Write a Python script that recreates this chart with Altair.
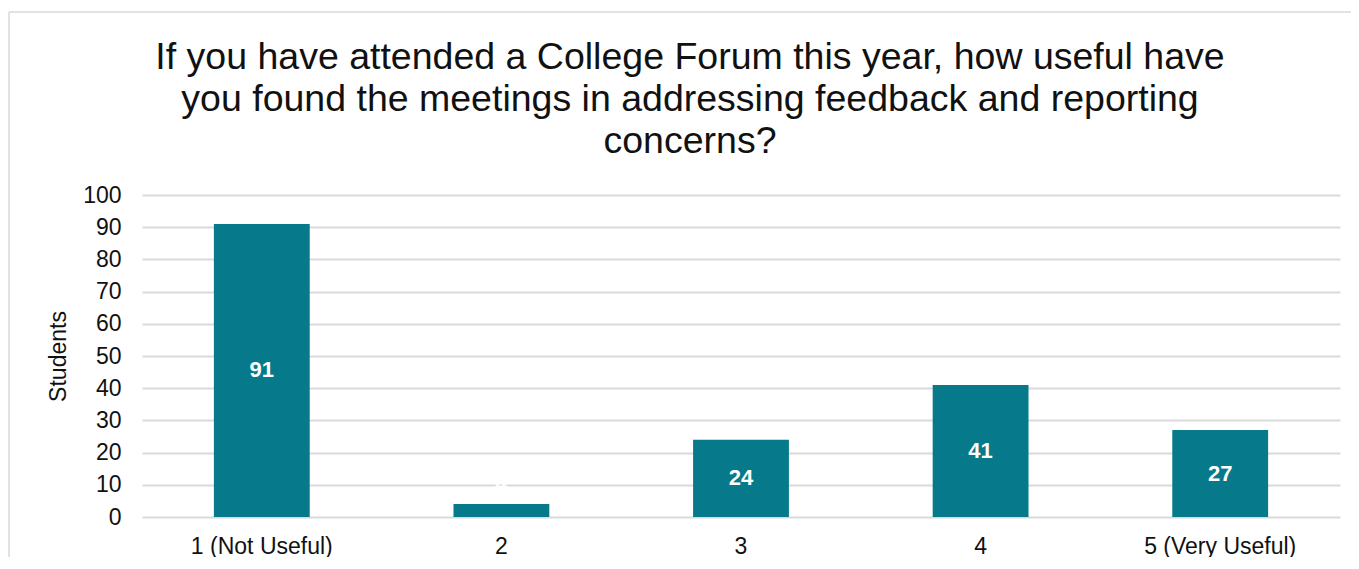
import altair as alt
import pandas as pd

categories = ["1 (Not Useful)", "2", "3", "4", "5 (Very Useful)"]
students = [91, 4, 24, 41, 27]
y_ticks = [0, 10, 20, 30, 40, 50, 60, 70, 80, 90, 100]

title_lines = [
    "If you have attended a College Forum this year, how useful have",
    "you found the meetings in addressing feedback and reporting",
    "concerns?",
]

df = pd.DataFrame({"rating": categories, "students": students})

FONT = "Liberation Sans"
TEAL = "#067A8B"

base = alt.Chart(df)

x_enc = alt.X(
    "rating:N",
    sort=categories,
    title=None,
    scale=alt.Scale(paddingInner=0.6, paddingOuter=0.3),
    axis=alt.Axis(
        labelAngle=0,
        labelFontSize=23,
        labelFont=FONT,
        labelColor="#111111",
        labelPadding=18,
        ticks=False,
        domain=False,
        grid=False,
    ),
)

y_scale = alt.Scale(domain=[0, 100], nice=False)
y_axis = alt.Axis(
    values=y_ticks,
    labelOverlap=False,
    labelFontSize=23,
    labelFont=FONT,
    labelColor="#111111",
    labelPadding=21,
    ticks=False,
    domain=False,
    gridColor="#d9d9d9",
    gridWidth=1.8,
    titleFont=FONT,
    titleFontSize=23,
    titleFontWeight="normal",
    titleColor="#111111",
    titleAngle=-90,
    titleX=-84,
    titleY=161,
    titleAlign="center",
    titleBaseline="middle",
)

bars = base.mark_bar(color=TEAL).encode(
    x=x_enc,
    y=alt.Y("students:Q", title="Students", scale=y_scale, axis=y_axis),
)

labels = base.transform_calculate(
    mid="max(datum.students / 2, 10.3)"
).mark_text(
    color="white", fontWeight="bold", fontSize=22, font=FONT, baseline="middle"
).encode(
    x=alt.X("rating:N", sort=categories),
    y=alt.Y("mid:Q", title="Students", scale=y_scale, axis=y_axis),
    text=alt.Text("students:Q"),
)

frame_data = alt.Data(values=[{"k": 1}])
border_left = alt.Chart(frame_data).mark_rule(color="#d9d9d9", strokeWidth=1.5).encode(
    x=alt.value(-133), y=alt.value(-183), y2=alt.value(400)
)
border_top = alt.Chart(frame_data).mark_rule(color="#d9d9d9", strokeWidth=1.5).encode(
    x=alt.value(-133), x2=alt.value(1220), y=alt.value(-183)
)

chart = alt.layer(border_left, border_top, bars, labels).properties(
    width=1198,
    height=322,
    padding={"left": 134, "top": 187, "right": 11, "bottom": 40},
    autosize=alt.AutoSizeParams(type="none"),
    title=alt.Title(
        text=title_lines,
        font=FONT,
        fontSize=37.5,
        fontWeight="normal",
        color="#111111",
        lineHeight=42,
        anchor="middle",
        frame="group",
        dx=-51,
        dy=169,
        offset=20,
    ),
).configure(
    background="white",
    view=alt.ViewConfig(stroke=None),
)

chart.save("out.html", embed_options={"renderer": "svg", "actions": False})
